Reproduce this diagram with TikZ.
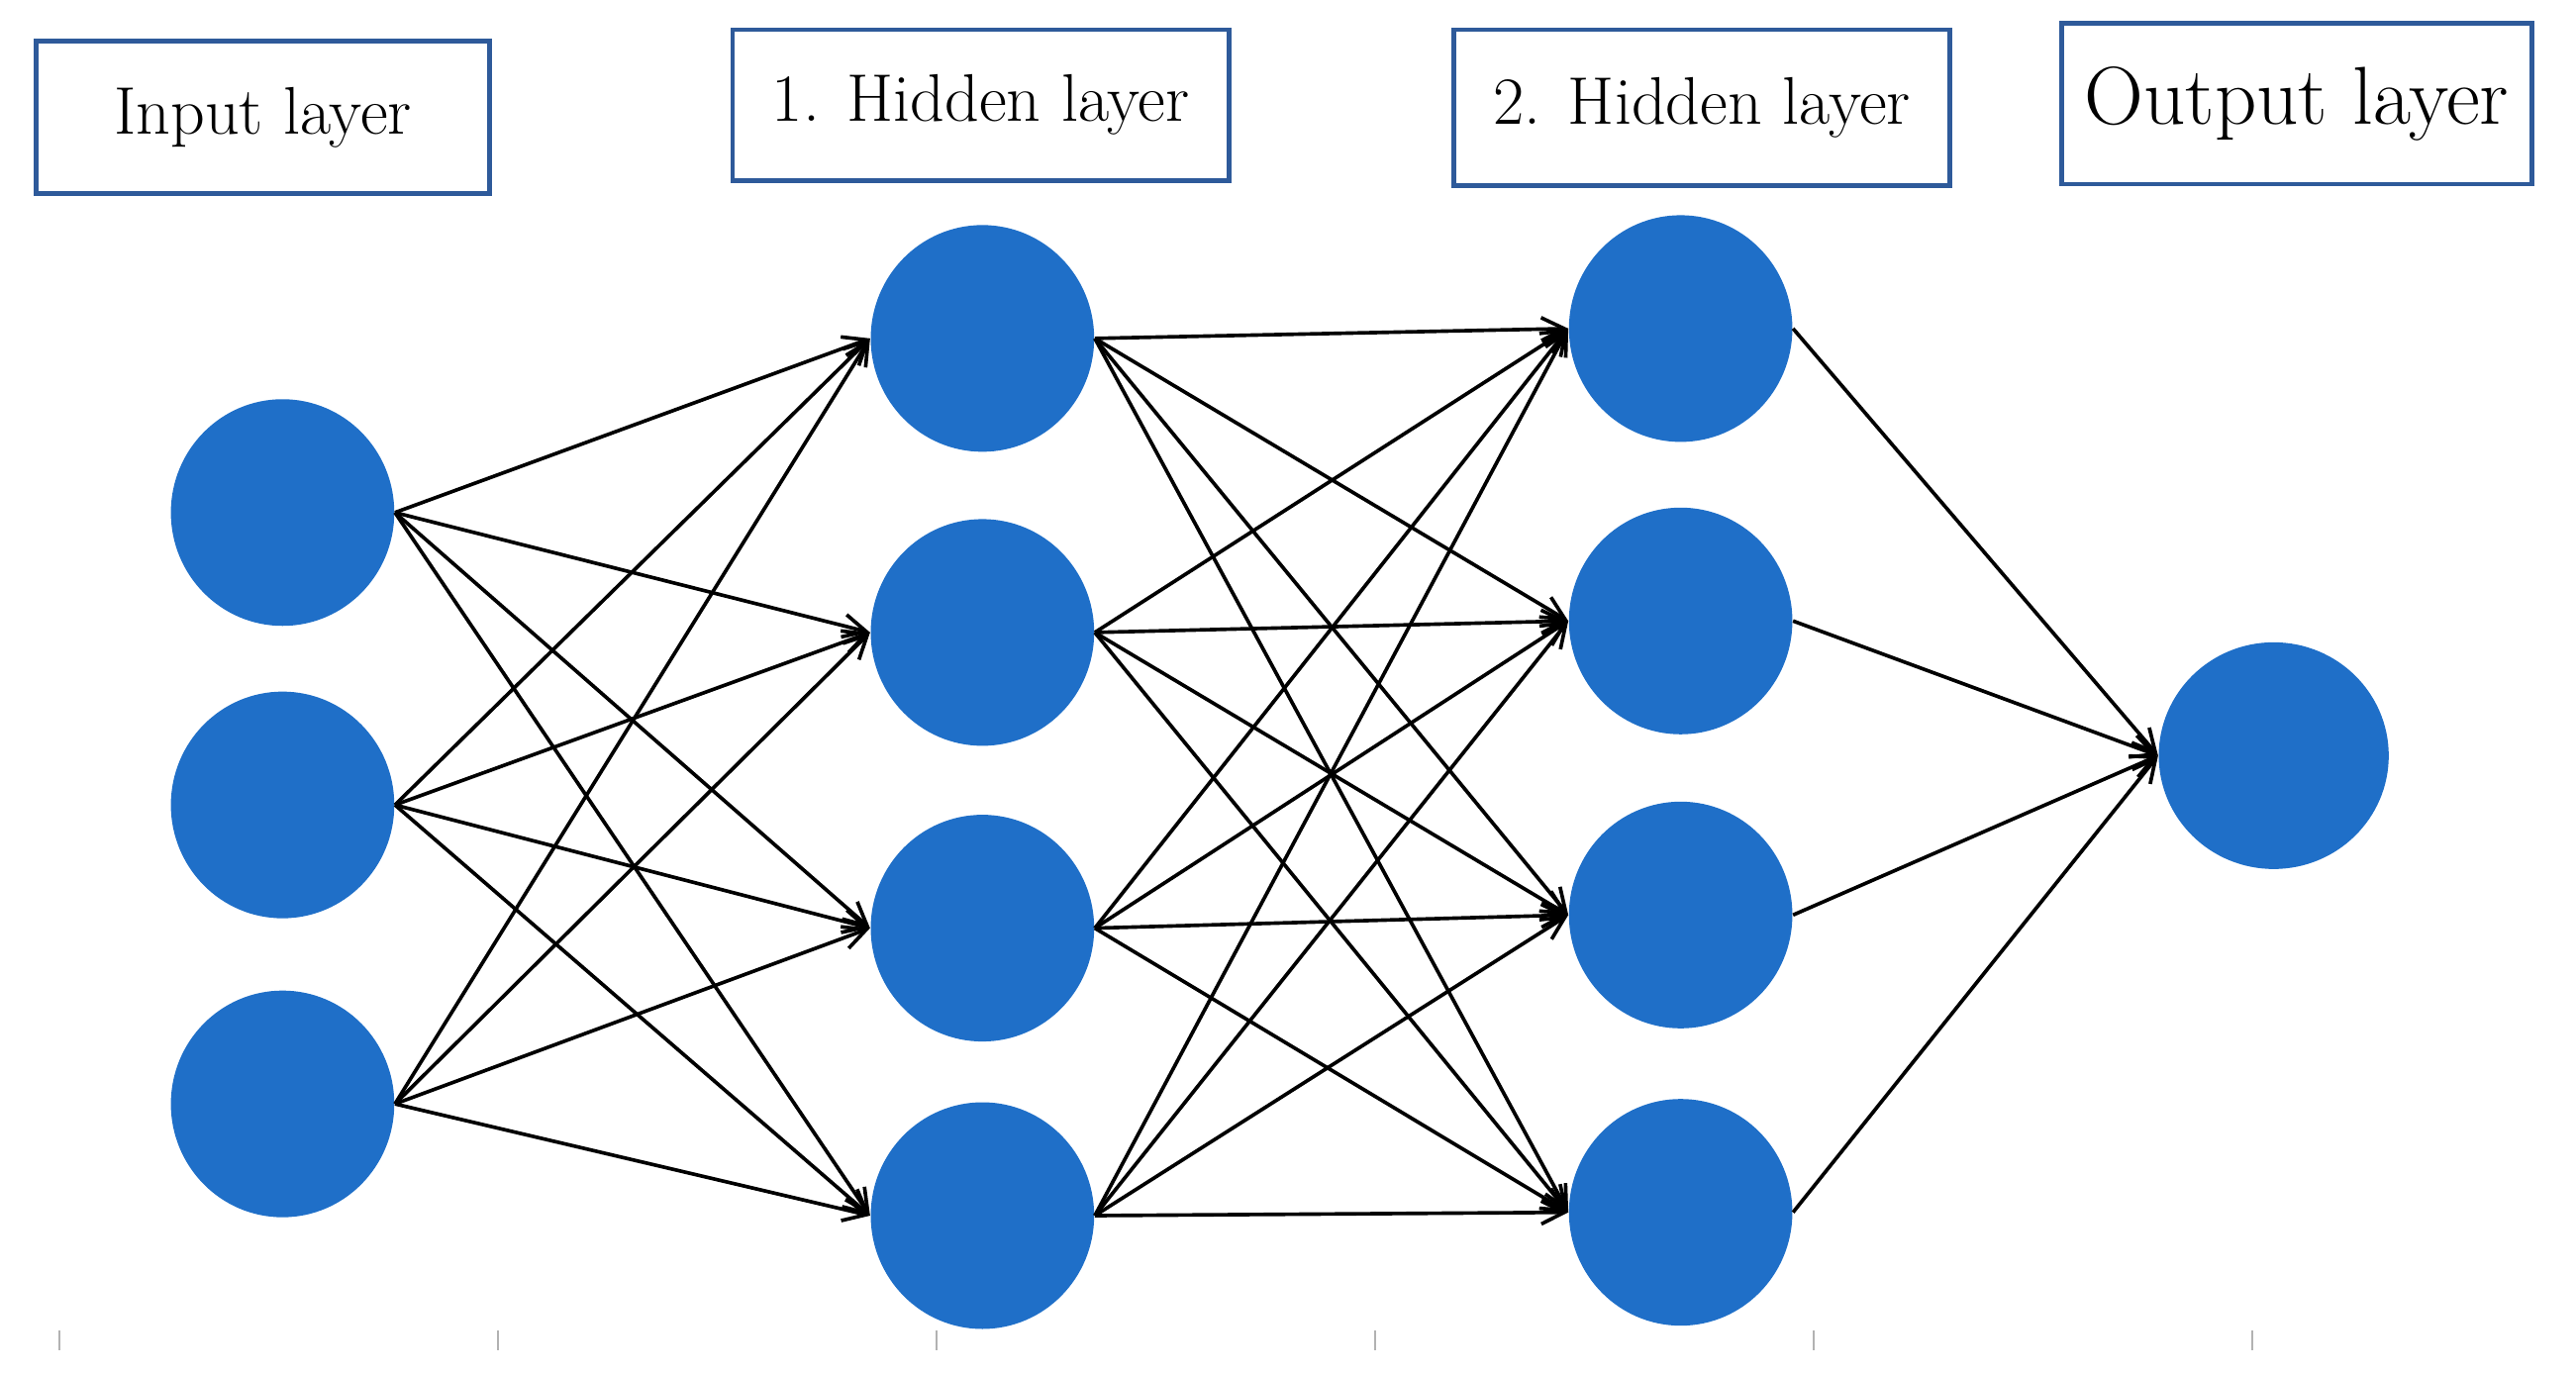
\documentclass[tikz,border=0pt]{standalone}
\usetikzlibrary{arrows.meta,shapes.geometric}
\definecolor{nblue}{HTML}{1F6FC8}
\definecolor{bblue}{HTML}{2E5A9A}
\begin{document}
\begin{tikzpicture}[x=0.5pt,y=-0.5pt,
  neuron/.style={ellipse,fill=nblue,minimum width=68pt,minimum height=69pt,inner sep=0pt},
  lbl/.style={draw=bblue,line width=1.4pt,inner sep=0pt,font=\fontsize{20.5}{24}\selectfont},
  conn/.style={line width=1.1pt,-{Straight Barb[length=7pt,width=7pt]}},
  tick/.style={gray!60,line width=0.6pt}]
\useasboundingbox (0,0) rectangle (1568,836.4);
\node[lbl,minimum width=138pt,minimum height=46.5pt] (t1) at (160,71.5) {Input layer};
\node[lbl,minimum width=151pt,minimum height=46pt] (t2) at (597,64) {1. Hidden layer};
\node[lbl,minimum width=151pt,minimum height=47.5pt] (t3) at (1036,65.5) {2. Hidden layer};
\node[lbl,minimum width=143pt,minimum height=49pt,font=\fontsize{25}{28}\selectfont] (t4) at (1398,63) {Output layer};
\foreach \y [count=\i] in {312,490,672} \node[neuron] (a\i) at (172,\y) {};
\foreach \y [count=\i] in {206,385,565,740} \node[neuron] (b\i) at (598,\y) {};
\foreach \y [count=\i] in {200,378,557,738} \node[neuron] (c\i) at (1023,\y) {};
\node[neuron,minimum width=70pt] (d1) at (1384,460) {};
\foreach \i in {1,2,3} \foreach \j in {1,...,4} \draw[conn] (a\i.east) -- (b\j.west);
\foreach \i in {1,...,4} \foreach \j in {1,...,4} \draw[conn] (b\i.east) -- (c\j.west);
\foreach \i in {1,...,4} \draw[conn] (c\i.east) -- (d1.west);
\foreach \x [count=\k] in {36,303,570,837,1104,1371} {
  \coordinate (k\k) at (\x,810); \coordinate (m\k) at (\x,822);
  \draw[tick] (k\k) -- (m\k);}
\end{tikzpicture}
\end{document}
